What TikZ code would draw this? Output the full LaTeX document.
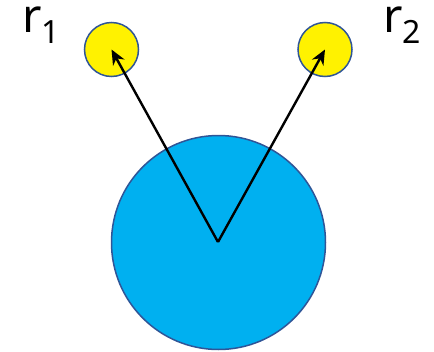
\documentclass[tikz,border=0pt]{standalone}
\usepackage{fontspec}
\setmainfont{Noto Sans}
\usepackage{xcolor}
\usetikzlibrary{arrows.meta}
\definecolor{bodyblue}{HTML}{00B0F0}
\definecolor{rimblue}{HTML}{2F5597}
\tikzset{
  bigball/.style={
    circle,
    draw=rimblue,
    line width=1.5pt,
    fill=bodyblue,
    minimum size=214pt,
    inner sep=0pt
  },
  smallball/.style={
    circle,
    draw=rimblue,
    line width=1.5pt,
    fill=yellow,
    minimum size=54pt,
    inner sep=0pt
  },
  rlabel/.style={anchor=base west, inner sep=0pt},
  vecarrow/.style={-{Stealth[length=15pt,width=13pt]}, line width=2.4pt}
}
\newcommand{\rsub}[1]{{\fontsize{47}{50}\selectfont r\raisebox{-11pt}{\fontsize{32}{34}\selectfont #1}}}

\begin{document}
\begin{tikzpicture}[x=1pt,y=-1pt]
  \useasboundingbox (0,0) rectangle (434,351);
  \node[bigball] (core) at (218.5,242.5) {};
  \node[smallball] (left) at (111.5,49.5) {};
  \node[smallball] (right) at (325,49.5) {};
  \coordinate (mid) at (218,242);

  \node[rlabel] (rone) at (22,32) {\rsub{1}};
  \node[rlabel] (rtwo) at (383,32) {\rsub{2}};

  \draw[vecarrow] (mid) -- (left.center);
  \draw[vecarrow] (mid) -- (right.center);
\end{tikzpicture}
\end{document}
